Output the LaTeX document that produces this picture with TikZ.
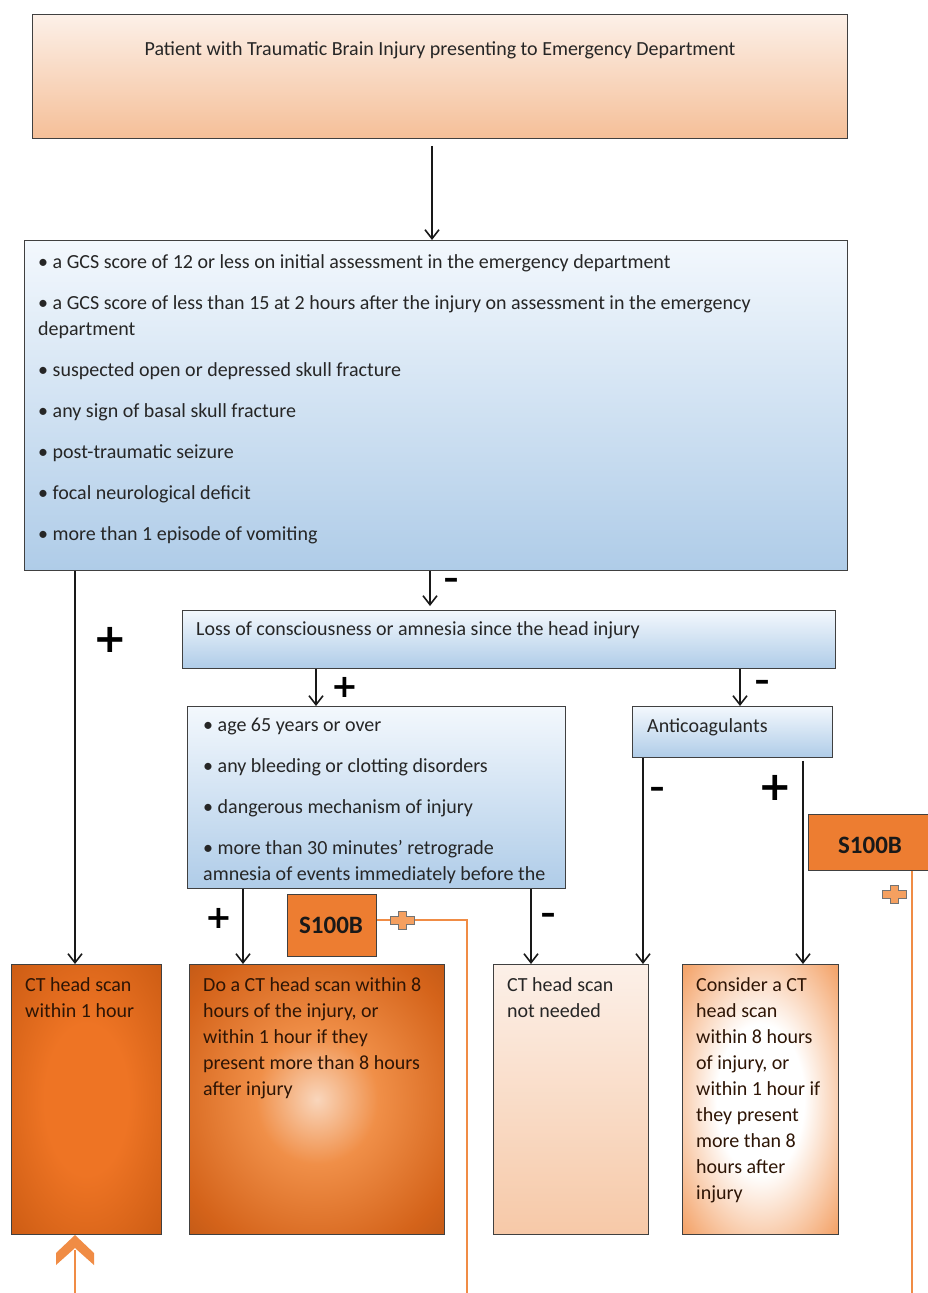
\documentclass[tikz,border=0pt]{standalone}
\usepackage{fontspec}
\setmainfont{Carlito}
\newfontfamily\symfont{DejaVu Sans}
\usetikzlibrary{arrows.meta}
\definecolor{peachT}{HTML}{FCF0E8}
\definecolor{peachB}{HTML}{F5BF98}
\definecolor{blueT}{HTML}{F3F8FD}
\definecolor{blueB}{HTML}{AFCCE8}
\definecolor{orangeS}{HTML}{ED7D31}
\definecolor{orangeL}{HTML}{F08C45}
\definecolor{oA1}{HTML}{EE7424}
\definecolor{oA2}{HTML}{CF5E15}
\definecolor{oA3}{HTML}{AA4C0E}
\definecolor{oB1}{HTML}{F9D6BC}
\definecolor{oB2}{HTML}{F08F48}
\definecolor{oB3}{HTML}{D4631A}
\definecolor{oB4}{HTML}{9C450E}
\definecolor{oD2}{HTML}{F4A66E}
\definecolor{oD3}{HTML}{EC7C31}
\definecolor{crossF}{HTML}{F5A060}
\definecolor{txtc}{HTML}{262626}
\definecolor{txto}{HTML}{2E1505}
\pgfdeclareradialshading{shA}{\pgfpoint{0bp}{0bp}}{color(0bp)=(oA1); color(14bp)=(oA1); color(34bp)=(oA2); color(50bp)=(oA3)}
\pgfdeclareradialshading{shB}{\pgfpoint{0bp}{0bp}}{color(0bp)=(oB1); color(12bp)=(oB2); color(30bp)=(oB3); color(50bp)=(oB4)}
\pgfdeclareradialshading{shD}{\pgfpoint{0bp}{0bp}}{color(0bp)=(white); color(14bp)=(white); color(34bp)=(oD2); color(50bp)=(oD3)}
\tikzset{
  box/.style={draw=black!75, line width=0.8pt, anchor=north west, inner sep=0pt},
  peachbox/.style={box, top color=peachT, bottom color=peachB},
  bluebox/.style={box, top color=blueT, bottom color=blueB},
  txt/.style={anchor=north west, inner sep=0pt, align=left, font=\fontsize{20}{26}\selectfont, text=txtc},
  otxt/.style={txt, text=txto},
  arr/.style={line width=1.6pt, draw=black!90, -{Straight Barb[length=9pt,width=14pt,line width=1.6pt]}},
  oline/.style={line width=2pt, draw=orangeL},
  bigpm/.style={inner sep=0pt, font=\symfont\bfseries\fontsize{40}{40}\selectfont},
  smallpm/.style={inner sep=0pt, font=\symfont\bfseries\fontsize{32}{32}\selectfont},
  minus/.style={inner sep=0pt, font=\symfont\bfseries\fontsize{30}{30}\selectfont},
  sbox/.style={box, fill=orangeS},
  stxt/.style={inner sep=0pt, font=\bfseries\fontsize{25}{28}\selectfont, text=black!90},
  pics/ocross/.style={code={
    \filldraw[fill=crossF, draw=black!55, line width=0.8pt]
      (-4,-9) -- (4,-9) -- (4,-4) -- (12,-4) -- (12,4) -- (4,4) -- (4,9) -- (-4,9) -- (-4,4) -- (-12,4) -- (-12,-4) -- (-4,-4) -- cycle;
  }}
}
\begin{document}
\begin{tikzpicture}[x=1pt,y=-1pt]
\useasboundingbox (0,0) rectangle (927,1293);
\fill[white] (0,0) rectangle (927,1293);

% boxes
\node[peachbox, minimum width=815pt, minimum height=124pt] (top) at (32,14) {};
\node[inner sep=0pt, font=\fontsize{20}{24}\selectfont, text=txtc] (toptxt) at (440,50) {Patient with Traumatic Brain Injury presenting to Emergency Department};

\node[bluebox, minimum width=823pt, minimum height=330pt] (big) at (24,240) {};
\node[txt] (bigtxt) at (38,254) {• a GCS score of 12 or less on initial assessment in the emergency department\\[15pt]
• a GCS score of less than 15 at 2 hours after the injury on assessment in the emergency\\department\\[15pt]
• suspected open or depressed skull fracture\\[15pt]
• any sign of basal skull fracture\\[15pt]
• post-traumatic seizure\\[15pt]
• focal neurological deficit\\[15pt]
• more than 1 episode of vomiting};

\node[bluebox, minimum width=653pt, minimum height=58pt] (loss) at (182,610) {};
\node[txt] (losstxt) at (196,621) {Loss of consciousness or amnesia since the head injury};

\node[bluebox, minimum width=378pt, minimum height=182pt] (crit) at (187,706) {};
\begin{scope}
\clip (187,706) rectangle (565,888);
\node[txt] (crittxt) at (203,718) {• age 65 years or over\\[15pt]
• any bleeding or clotting disorders\\[15pt]
• dangerous mechanism of injury\\[15pt]
• more than 30 minutes’ retrograde\\amnesia of events immediately before the};
\end{scope}
\draw[black!75, line width=0.8pt] (crit.north west) rectangle (crit.south east);

\node[bluebox, minimum width=200pt, minimum height=51pt] (anti) at (632,706) {};
\node[txt] (antitxt) at (647,718) {Anticoagulants};

\node[sbox, minimum width=89pt, minimum height=62pt] (sA) at (287,894) {};
\node[stxt] (sAtxt) at (331,925) {S100B};
\node[sbox, minimum width=124pt, minimum height=56pt] (sB) at (808,814) {};
\node[stxt] (sBtxt) at (870,845) {S100B};

\node[box, shading=shA, minimum width=150pt, minimum height=270pt] (ctA) at (11,964) {};
\node[otxt] (ctAtxt) at (25,977) {CT head scan\\within 1 hour};
\node[box, shading=shB, minimum width=255pt, minimum height=270pt] (ctB) at (189,964) {};
\node[otxt] (ctBtxt) at (203,977) {Do a CT head scan within 8\\hours of the injury, or\\within 1 hour if they\\present more than 8 hours\\after injury};
\node[box, top color=peachT, bottom color=peachB!85!white, minimum width=155pt, minimum height=270pt] (ctC) at (493,964) {};
\node[txt] (ctCtxt) at (507,977) {CT head scan\\not needed};
\node[box, shading=shD, minimum width=156pt, minimum height=270pt] (ctD) at (682,964) {};
\node[otxt] (ctDtxt) at (696,977) {Consider a CT\\head scan\\within 8 hours\\of injury, or\\within 1 hour if\\they present\\more than 8\\hours after\\injury};

% black connectors
\draw[arr, shorten <=7pt] (top.south -| 432,0) -- (big.north -| 432,0);
\draw[arr] (big.south -| 75,0) -- (ctA.north -| 75,0);
\draw[arr, shorten >=4pt] (big.south -| 430,0) -- (loss.north -| 430,0);
\draw[arr] (loss.south -| 316,0) -- (crit.north -| 316,0);
\draw[arr] (loss.south -| 740,0) -- (anti.north -| 740,0);
\draw[arr] (crit.south -| 243,0) -- (ctB.north -| 243,0);
\draw[arr] (crit.south -| 531,0) -- (ctC.north -| 531,0);
\draw[arr] (anti.south -| 643,0) -- (ctC.north -| 643,0);
\draw[arr, shorten <=3pt] (anti.south -| 803,0) -- (ctD.north -| 803,0);

% labels
\node[bigpm] (p1) at (110,640) {+};
\node[minus] (m1) at (451,583) {–};
\node[smallpm] (p2) at (345,687) {+};
\node[minus] (m2) at (762,685) {–};
\node[smallpm] (p3) at (219,918) {+};
\node[minus] (m3) at (548,918) {–};
\node[minus] (m4) at (657,792) {–};
\node[bigpm] (p4) at (775,788) {+};

% orange S100B connectors
\coordinate (endA) at (467,1293);
\coordinate (endB) at (912,1293);
\coordinate (startC) at (75,1293);
\coordinate (tipC) at (75,1235);
\draw[oline] ([yshift=5pt]sA.east) -- ([yshift=5pt]sA.east -| 467,0) -- (endA);
\draw[oline] (sB.south -| 912,0) -- (endB);
\pic at (402,920) {ocross};
\pic at (894,894) {ocross};
\draw[oline] (startC) -- (75,1250);
\fill[orangeL] (tipC) -- ++(19,18) -- ++(0,12) -- ++(-19,-17) -- ++(-19,17) -- ++(0,-12) -- cycle;
\end{tikzpicture}
\end{document}
